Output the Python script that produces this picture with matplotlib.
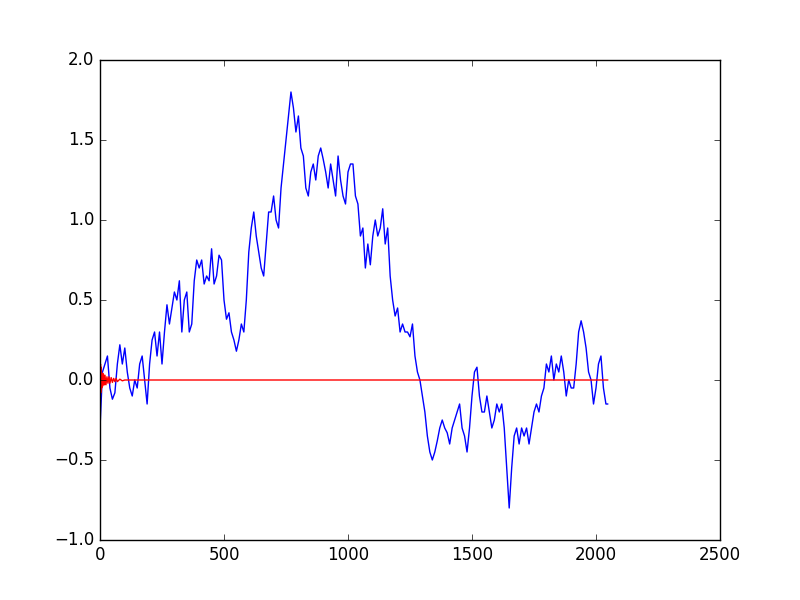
import matplotlib
matplotlib.use('Agg')
import matplotlib.pyplot as plt

plt.style.use('classic')

blue_y = [
    -0.30, 0.05, 0.10, 0.15, -0.05, -0.12, -0.08, 0.10, 0.22, 0.10,
    0.20, 0.05, -0.05, -0.10, 0.00, -0.05, 0.10, 0.15, 0.00, -0.15,
    0.10, 0.25, 0.30, 0.15, 0.30, 0.10, 0.30, 0.47, 0.35, 0.45,
    0.55, 0.50, 0.62, 0.30, 0.50, 0.55, 0.30, 0.35, 0.62, 0.75,
    0.70, 0.75, 0.60, 0.65, 0.62, 0.82, 0.60, 0.65, 0.78, 0.75,
    0.50, 0.38, 0.42, 0.30, 0.25, 0.18, 0.25, 0.35, 0.30, 0.50,
    0.80, 0.95, 1.05, 0.90, 0.80, 0.70, 0.65, 0.85, 1.05, 1.05,
    1.15, 1.00, 0.95, 1.20, 1.35, 1.50, 1.65, 1.80, 1.70, 1.55,
    1.65, 1.45, 1.40, 1.20, 1.15, 1.30, 1.35, 1.25, 1.40, 1.45,
    1.38, 1.30, 1.20, 1.35, 1.25, 1.15, 1.40, 1.25, 1.15, 1.10,
    1.30, 1.35, 1.35, 1.15, 1.10, 0.90, 0.95, 0.70, 0.85, 0.72,
    0.90, 1.00, 0.90, 0.95, 1.07, 0.85, 0.95, 0.65, 0.50, 0.40,
    0.45, 0.30, 0.35, 0.30, 0.30, 0.27, 0.35, 0.15, 0.05, 0.00,
    -0.10, -0.20, -0.35, -0.45, -0.50, -0.45, -0.38, -0.30, -0.25, -0.30,
    -0.33, -0.40, -0.30, -0.25, -0.20, -0.15, -0.30, -0.35, -0.45, -0.30,
    -0.10, 0.05, 0.08, -0.10, -0.20, -0.20, -0.10, -0.20, -0.30, -0.25,
    -0.15, -0.20, -0.15, -0.30, -0.55, -0.80, -0.55, -0.35, -0.30, -0.40,
    -0.30, -0.35, -0.30, -0.40, -0.30, -0.20, -0.15, -0.20, -0.10, -0.05,
    0.10, 0.05, 0.15, 0.00, 0.10, 0.05, 0.15, 0.05, -0.10, 0.00,
    -0.05, -0.05, 0.10, 0.30, 0.37, 0.30, 0.20, 0.05, 0.00, -0.15,
    -0.05, 0.10, 0.15, -0.05, -0.15, -0.15,
]
blue_x = list(range(0, 2041, 10)) + [2047]

# red decaying ringing near the start, then flat zero
red_x = [0, 1, 2, 3, 4, 5, 6, 7, 8, 10, 12, 14, 16, 18, 20, 24, 28, 32,
         36, 40, 45, 50, 55, 60, 65, 70, 80, 90, 100, 2047]
red_y = [0.17, -0.12, 0.10, -0.08, 0.08, -0.06, 0.05, -0.05, 0.04, -0.04,
         0.04, -0.03, 0.03, -0.03, 0.03, -0.03, 0.02, -0.02, 0.02, -0.02,
         0.015, -0.015, 0.01, -0.01, 0.01, -0.01, 0.005, -0.005, 0.0, 0.0]

fig = plt.figure(figsize=(8, 6), dpi=100)
ax = fig.add_subplot(111)
ax.plot(blue_x, blue_y, color='b')
ax.plot(red_x, red_y, color='r')
ax.set_xlim(0, 2500)
ax.set_ylim(-1.0, 2.0)

fig.savefig('out.png', dpi=100)
